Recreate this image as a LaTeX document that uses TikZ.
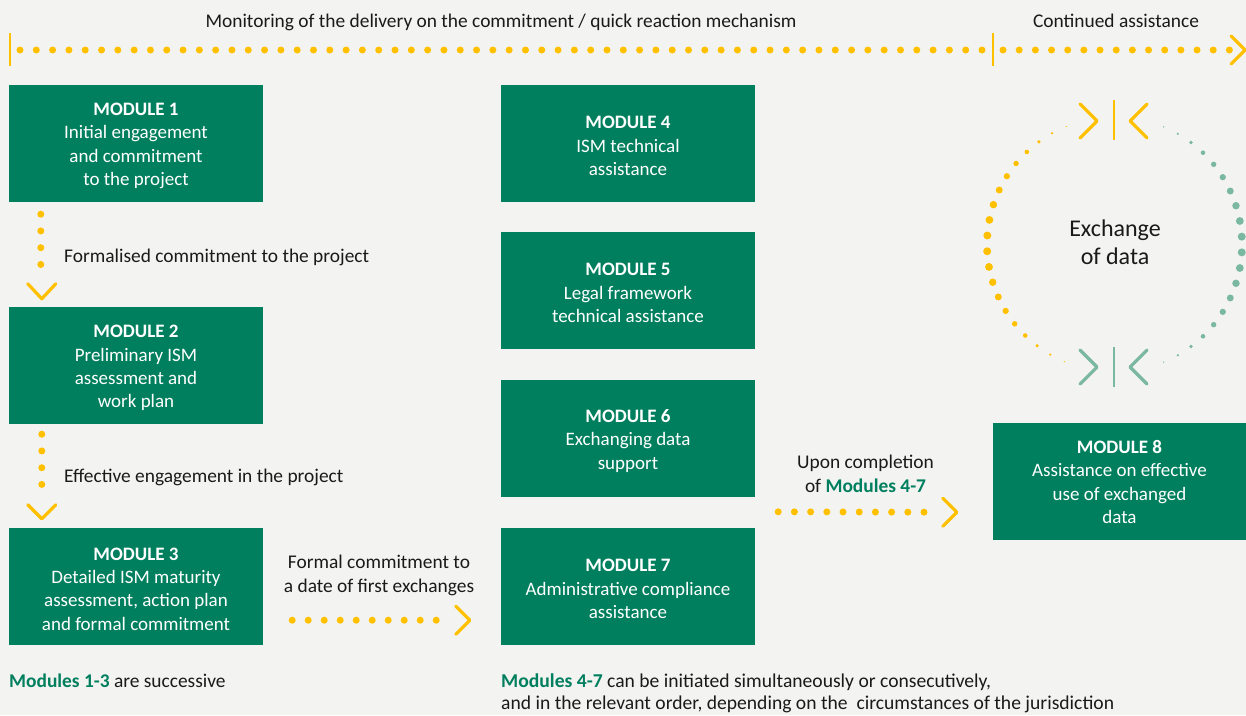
\documentclass[tikz,border=0pt]{standalone}
\usepackage{fontspec}
\setmainfont{Carlito}
\usetikzlibrary{calc}
\definecolor{bg}{RGB}{243,243,241}
\definecolor{mgreen}{RGB}{0,127,94}
\definecolor{myellow}{RGB}{255,192,0}
\definecolor{mteal}{RGB}{122,184,162}
\definecolor{txt}{RGB}{26,26,26}
\begin{document}
\begin{tikzpicture}[x=1pt,y=-1pt,
  module/.style={fill=mgreen, minimum width=254pt, minimum height=117pt, inner sep=0pt},
  mtext/.style={inner sep=0pt, text=white, align=center, font=\fontsize{19}{23.3}\selectfont},
  lbl/.style={inner sep=0pt, text=txt, font=\fontsize{19.4}{24}\selectfont},
  ydots/.style={myellow, line width=7pt, line cap=round, dash pattern=on 0pt off #1},
  ydots/.default=16.3,
  chev/.style={myellow, line width=3.2pt, line cap=round, line join=round},
  tchev/.style={mteal, line width=3.2pt, line cap=round, line join=round},
  tick/.style={myellow, line width=1.8pt},
]
\fill[bg] (0,0) rectangle (1246,715);
\useasboundingbox (0,0) rectangle (1246,715);

% modules
\node[module] (m1) at (136,143.5) {};
\node[module] (m2) at (136,365.5) {};
\node[module] (m3) at (136,586.5) {};
\node[module] (m4) at (628,143.5) {};
\node[module] (m5) at (628,290.5) {};
\node[module] (m6) at (628,438.5) {};
\node[module] (m7) at (628,586.5) {};
\node[module, minimum width=253pt] (m8) at (1119.5,481.5) {};
\node[mtext] (t1) at ($(m1.center)+(0,2.5)$) {\textbf{MODULE 1}\\Initial engagement\\and commitment\\to the project};
\node[mtext] (t2) at ($(m2.center)+(0,2.5)$) {\textbf{MODULE 2}\\Preliminary ISM\\assessment and\\work plan};
\node[mtext] (t3) at ($(m3.center)+(0,2.5)$) {\textbf{MODULE 3}\\Detailed ISM maturity\\assessment, action plan\\and formal commitment};
\node[mtext] (t4) at ($(m4.center)+(0,2.5)$) {\textbf{MODULE 4}\\ISM technical\\assistance};
\node[mtext] (t5) at ($(m5.center)+(0,2.5)$) {\textbf{MODULE 5}\\Legal framework\\technical assistance};
\node[mtext] (t6) at ($(m6.center)+(0,2.5)$) {\textbf{MODULE 6}\\Exchanging data\\support};
\node[mtext] (t7) at ($(m7.center)+(0,2.5)$) {\textbf{MODULE 7}\\Administrative compliance\\assistance};
\node[mtext] (t8) at ($(m8.center)+(0,0.5)$) {\textbf{MODULE 8}\\Assistance on effective\\use of exchanged\\data};

% top monitoring line
\coordinate (tl) at (20,50);
\coordinate (tm) at (982,50);
\coordinate (tn) at (1003,50);
\coordinate (tr) at (1229.5,50);
\draw[tick] (10,33) -- (10,66);
\draw[tick] (993,33) -- (993,66);
\draw[ydots=16.305] (tl) -- (tm);
\draw[ydots=16.17] (tn) -- (tr);
\draw[chev] (1231,36) -- (1245,50) -- (1231,64);
\node[lbl, anchor=base] (tmon) at (501,27) {Monitoring of the delivery on the commitment / quick reaction mechanism};
\node[lbl, anchor=base] (tcont) at (1116,27) {Continued assistance};

% m1 -> m2
\draw[ydots=16.75] ($(m1.south west)+(32,12)$) -- ($(m2.north west)+(32,-26)$);
\draw[chev] ($(m2.north west)+(19,-23)$) -- ($(m2.north west)+(33,-8)$) -- ($(m2.north west)+(47,-23)$);
\node[lbl, anchor=base west] (l12) at (64,262) {Formalised commitment to the project};

% m2 -> m3
\draw[ydots=16.75] ($(m2.south west)+(33,10)$) -- ($(m3.north west)+(33,-27)$);
\draw[chev] ($(m3.north west)+(19,-23)$) -- ($(m3.north west)+(33,-9)$) -- ($(m3.north west)+(47,-23)$);
\node[lbl, anchor=base west] (l23) at (64,482) {Effective engagement in the project};

% m3 -> m7
\draw[ydots=16] ($(m3.south east)+(29,-25)$) -- ($(m7.south west)+(-49,-25)$);
\draw[chev] ($(m7.south west)+(-45,-39)$) -- ($(m7.south west)+(-31,-25)$) -- ($(m7.south west)+(-45,-11)$);
\node[lbl, anchor=base, align=center] (l37) at (379,592) {Formal commitment to\\a date of first exchanges};

% m7 -> m8
\draw[ydots=16.2] ($(m7.north east)+(23,-16)$) -- ($(m8.south west)+(-53,-28)$);
\draw[chev] ($(m8.south west)+(-50,-42)$) -- ($(m8.south west)+(-36,-28)$) -- ($(m8.south west)+(-50,-14)$);
\node[lbl, anchor=base, align=center] (l78) at (865.5,492) {Upon completion\\of \textcolor{mgreen}{\textbf{Modules 4-7}}};

% exchange of data circle
\foreach \i in {0,...,19}{
  \pgfmathsetmacro\a{113.2+\i*134.6/19}
  \pgfmathsetmacro\rr{0.4+3.6*sin(180*(\i+0.5)/20)}
  \fill[myellow] (1114.5,244.5) ++(\a:127.5) circle (\rr pt);
  \pgfmathsetmacro\b{-67.3+\i*134.6/19}
  \fill[mteal] (1114.5,244.5) ++(\b:127.5) circle (\rr pt);
}
\draw[myellow, line width=2pt] (1113.5,100) -- (1113.5,140);
\draw[chev] (1080,104) -- (1097,121) -- (1080,138);
\draw[chev] (1147,104) -- (1130,121) -- (1147,138);
\draw[mteal, line width=2pt] (1113.5,347) -- (1113.5,387);
\draw[tchev] (1080,350) -- (1097,367) -- (1080,384);
\draw[tchev] (1147,350) -- (1130,367) -- (1147,384);
\node[inner sep=0pt, text=txt, align=center, anchor=base, font=\fontsize{24}{27.5}\selectfont] (exd) at (1115,264) {Exchange\\of data};

% bottom notes
\node[lbl, anchor=base west] (n13) at (9,687) {\textcolor{mgreen}{\textbf{Modules 1-3}} are successive};
\node[lbl, anchor=base west, align=left, font=\fontsize{19.6}{22}\selectfont] (n47) at (501,709) {\textcolor{mgreen}{\textbf{Modules 4-7}} can be initiated simultaneously or consecutively,\\and in the relevant order, depending on the\ \ circumstances of the jurisdiction};
\end{tikzpicture}
\end{document}
